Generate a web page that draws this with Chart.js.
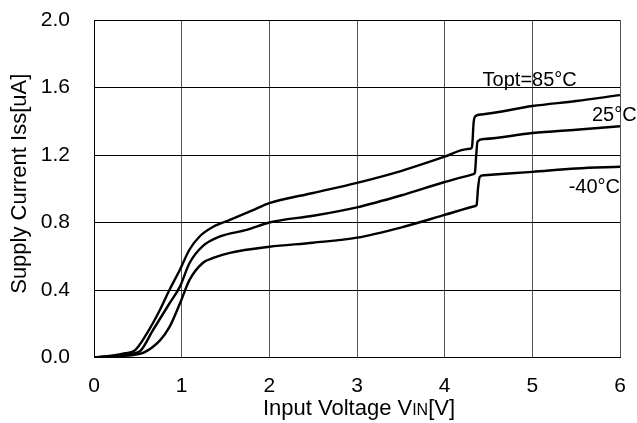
<!DOCTYPE html>
<html>
<head>
<meta charset="utf-8">
<script src="https://cdn.jsdelivr.net/npm/chart.js@4.4.1/dist/chart.umd.min.js"></script>
<style>
  html, body { margin: 0; padding: 0; background: #fff; }
  #wrap { width: 637px; height: 423px; position: relative; }
</style>
</head>
<body>
<div id="wrap"><canvas id="c" width="637" height="423"></canvas></div>
<script>
// Supply current vs input voltage, three ambient temperatures
const vin85 = [0, 0.2, 0.35, 0.46, 0.6, 0.75, 0.86, 0.98, 1.09, 1.21, 1.36, 1.55, 1.8, 2.0, 2.5, 3.0, 3.5, 4.0, 4.25, 4.305, 4.315, 4.33, 4.35, 4.42, 5.0, 5.5, 6.0];
const iss85 = [0, 0.01, 0.025, 0.04, 0.14, 0.28, 0.40, 0.52, 0.64, 0.72, 0.775, 0.815, 0.87, 0.915, 0.975, 1.035, 1.105, 1.19, 1.235, 1.24, 1.26, 1.39, 1.43, 1.44, 1.49, 1.52, 1.555];

const vin25 = [0, 0.25, 0.4, 0.52, 0.67, 0.86, 0.98, 1.09, 1.24, 1.43, 1.74, 2.0, 2.5, 3.0, 3.5, 4.0, 4.33, 4.345, 4.36, 4.375, 4.45, 5.0, 5.5, 6.0];
const iss25 = [0, 0.01, 0.02, 0.035, 0.16, 0.32, 0.42, 0.56, 0.66, 0.716, 0.756, 0.80, 0.84, 0.89, 0.96, 1.04, 1.087, 1.095, 1.20, 1.28, 1.295, 1.33, 1.35, 1.37];

const vinM40 = [0, 0.3, 0.45, 0.56, 0.75, 0.86, 0.98, 1.09, 1.24, 1.36, 1.55, 2.0, 2.5, 3.0, 3.5, 4.0, 4.35, 4.365, 4.38, 4.4, 4.45, 5.0, 5.5, 6.0];
const issM40 = [0, 0.008, 0.015, 0.027, 0.10, 0.18, 0.32, 0.46, 0.56, 0.59, 0.62, 0.656, 0.68, 0.71, 0.77, 0.845, 0.898, 0.905, 1.00, 1.07, 1.08, 1.10, 1.12, 1.13];

const seriesNames = ['Topt=85°C', '25°C', '-40°C'];
const xTicks = [0, 1, 2, 3, 4, 5, 6];
const yTicks = [0.0, 0.4, 0.8, 1.2, 1.6, 2.0];

const toPoints = (xs, ys) => xs.map((x, i) => ({ x: x, y: ys[i] }));

const FONT = '"Liberation Sans", Arial, sans-serif';

// Curve labels, placed in data space next to each curve
const curveLabels = [
  { text: seriesNames[0], x: 4.97, y: 1.64, align: 'center' },
  { text: seriesNames[1], x: 6.19, y: 1.437, align: 'right' },
  { text: seriesNames[2], x: 6.0, y: 1.01, align: 'right' }
];

const labelPlugin = {
  id: 'curveLabels',
  afterDatasetsDraw(chart) {
    const { ctx, scales } = chart;
    ctx.save();
    ctx.fillStyle = '#000';
    ctx.font = '20px ' + FONT;
    ctx.textBaseline = 'middle';
    curveLabels.forEach(l => {
      ctx.textAlign = l.align;
      ctx.fillText(l.text, scales.x.getPixelForValue(l.x), scales.y.getPixelForValue(l.y));
    });
    ctx.restore();
  }
};

// Axis titles (the x title carries a small-caps "IN" subscript)
const titlePlugin = {
  id: 'axisTitles',
  afterDraw(chart) {
    const { ctx, chartArea } = chart;
    ctx.save();
    ctx.fillStyle = '#000';
    ctx.textBaseline = 'alphabetic';
    ctx.textAlign = 'left';
    const big = '22px ' + FONT;
    const small = '16px ' + FONT;
    const parts = [['Input Voltage V', big], ['IN', small], ['[V]', big]];
    let total = 0;
    parts.forEach(p => { ctx.font = p[1]; total += ctx.measureText(p[0]).width; });
    let x = (chartArea.left + chartArea.right) / 2 + 2 - total / 2;
    const base = 415;
    parts.forEach(p => { ctx.font = p[1]; ctx.fillText(p[0], x, base); x += ctx.measureText(p[0]).width; });

    ctx.translate(20, (chartArea.top + chartArea.bottom) / 2 - 5);
    ctx.rotate(-Math.PI / 2);
    ctx.font = big;
    ctx.textAlign = 'center';
    ctx.textBaseline = 'middle';
    ctx.fillText('Supply Current Iss[uA]', 0, 0);
    ctx.restore();
  }
};

const lineStyle = {
  showLine: true,
  borderColor: '#000',
  borderWidth: 2.4,
  pointRadius: 0,
  fill: false,
  cubicInterpolationMode: 'monotone'
};

const noScalePadding = s => { s.paddingTop = 0; s.paddingBottom = 0; s.paddingLeft = 0; s.paddingRight = 0; };

new Chart(document.getElementById('c'), {
  type: 'scatter',
  data: {
    datasets: [
      Object.assign({ label: seriesNames[0], data: toPoints(vin85, iss85) }, lineStyle),
      Object.assign({ label: seriesNames[1], data: toPoints(vin25, iss25) }, lineStyle),
      Object.assign({ label: seriesNames[2], data: toPoints(vinM40, issM40) }, lineStyle)
    ]
  },
  options: {
    responsive: false,
    animation: false,
    layout: { padding: { top: 20, right: 17, left: 0, bottom: 0 } },
    plugins: { legend: { display: false }, tooltip: { enabled: false } },
    scales: {
      x: {
        type: 'linear',
        min: 0, max: 6,
        afterBuildTicks(scale) { scale.ticks = xTicks.map(v => ({ value: v })); },
        afterFit(scale) { scale.height = 65.5; noScalePadding(scale); },
        ticks: {
          color: '#000',
          padding: 16,
          font: { family: FONT, size: 21 },
          maxRotation: 0,
          callback: v => String(v)
        },
        grid: { color: '#555', lineWidth: 1, drawTicks: false },
        border: { color: '#000', width: 1 }
      },
      y: {
        type: 'linear',
        min: 0, max: 2,
        afterBuildTicks(scale) { scale.ticks = yTicks.map(v => ({ value: v })); },
        afterFit(scale) { scale.width = 94; noScalePadding(scale); },
        ticks: {
          color: '#000',
          padding: 24,
          font: { family: FONT, size: 21 },
          callback: v => Number(v).toFixed(1)
        },
        grid: { color: '#000', lineWidth: 1, drawTicks: false },
        border: { color: '#000', width: 1 }
      }
    }
  },
  plugins: [labelPlugin, titlePlugin]
});
</script>
</body>
</html>
